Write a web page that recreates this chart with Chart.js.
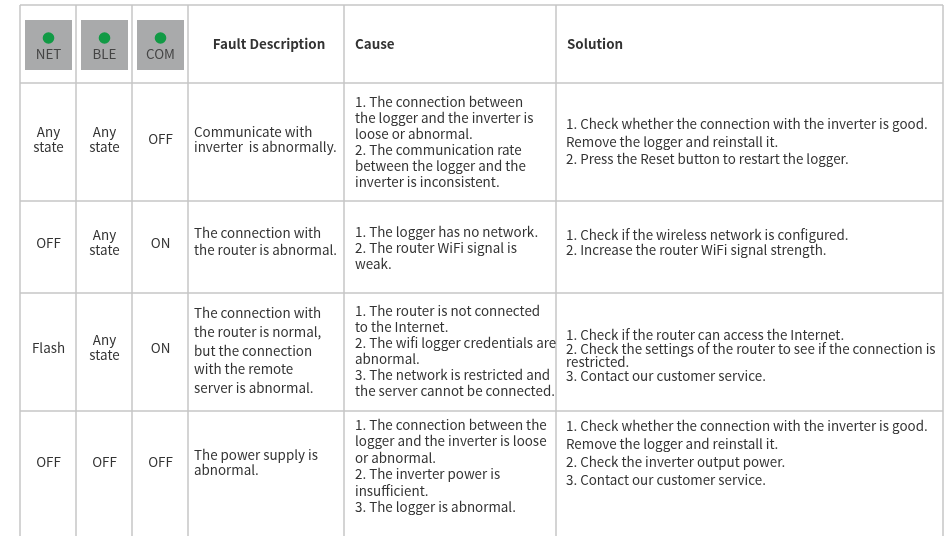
<!DOCTYPE html>
<html>
<head>
<meta charset="utf-8">
<script src="https://cdn.jsdelivr.net/npm/chart.js@4.4.1/dist/chart.umd.min.js"></script>
<style>
  html, body { margin: 0; padding: 0; background: #fff; }
  #wrap { width: 951px; height: 536px; }
</style>
</head>
<body>
<div id="wrap"><canvas id="Chart"></canvas></div>
<script>
/* table content */
const ledNames = ['NET', 'BLE', 'COM'];
const headers = ['Fault Description', 'Cause', 'Solution'];

const netState = [['Any', 'state'], ['OFF'], ['Flash'], ['OFF']];
const bleState = [['Any', 'state'], ['Any', 'state'], ['Any', 'state'], ['OFF']];
const comState = [['OFF'], ['ON'], ['ON'], ['OFF']];

const faults = [
    ['Communicate with', 'inverter  is abnormally.'],
    ['The connection with', 'the router is abnormal.'],
    ['The connection with', 'the router is normal,', 'but the connection', 'with the remote', 'server is abnormal.'],
    ['The power supply is', 'abnormal.']
];

const causes = [
    ['1. The connection between', 'the logger and the inverter is', 'loose or abnormal.', '2. The communication rate', 'between the logger and the', 'inverter is inconsistent.'],
    ['1. The logger has no network.', '2. The router WiFi signal is', 'weak.'],
    ['1. The router is not connected', 'to the Internet.', '2. The wifi logger credentials are', 'abnormal.', '3. The network is restricted and', 'the server cannot be connected.'],
    ['1. The connection between the', 'logger and the inverter is loose', 'or abnormal.', '2. The inverter power is', 'insufficient.', '3. The logger is abnormal.']
];

const solutions = [
    ['1. Check whether the connection with the inverter is good.', 'Remove the logger and reinstall it.', '2. Press the Reset button to restart the logger.'],
    ['1. Check if the wireless network is configured.', '2. Increase the router WiFi signal strength.'],
    ['1. Check if the router can access the Internet.', '2. Check the settings of the router to see if the connection is', 'restricted.', '3. Contact our customer service.'],
    ['1. Check whether the connection with the inverter is good.', 'Remove the logger and reinstall it.', '2. Check the inverter output power.', '3. Contact our customer service.']
];

/* table geometry (in scale units) */
const colEdges = [20, 76, 132, 188, 344, 556, 943];
const rowEdges = [5, 83, 201, 293, 411, 536];

const FONT = '"Noto Sans CJK SC", "Noto Sans", sans-serif';
const TEXT = '#333333';
const LINE = '#c6c6c6';

// cell text placement tweaks per body row (null = top aligned)
const layoutCfg = {
    stateShift: [-3, -4.5, -4.5, 51],
    faultShift: [-3, -5.5, -1.5, 51],
    causeShift: [-0.5, 0.5, -1.5, null],
    solShift:   [-0.5, -5, 3.5, null],
    faultLH:    [15, 17, 18.7, 15],
    causeLH:    [16, 16, 16, 16.4],
    solLH:      [17.5, 15, 13.7, 18]
};

// one line dataset per border line
function borderSets() {
    let sets = [];
    const bottom = rowEdges[rowEdges.length - 1];
    for (let i = 0; i < rowEdges.length - 1; i++) {
        sets.push({ type: 'line', data: [{x: colEdges[0], y: rowEdges[i]}, {x: colEdges[colEdges.length - 1], y: rowEdges[i]}] });
    }
    colEdges.forEach(function (c) {
        sets.push({ type: 'line', data: [{x: c, y: rowEdges[0]}, {x: c, y: bottom}] });
    });
    return sets.map(function (s) {
        return Object.assign(s, { borderColor: LINE, borderWidth: 1.5, pointRadius: 0, fill: false, tension: 0 });
    });
}

const ledDots = ledNames.map(function (n, i) {
    return { x: (colEdges[i] + colEdges[i + 1]) / 2 + 0.5, y: rowEdges[0] + 33 };
});

function drawLines(ctx, arr, x, yc, lh) {
    const y0 = yc - (arr.length - 1) * lh / 2;
    arr.forEach(function (t, i) { ctx.fillText(t, x, y0 + i * lh); });
}

const tablePlugin = {
    id: 'tablePlugin',
    beforeDatasetsDraw(chart) {
        const ctx = chart.ctx, xs = chart.scales.x, ys = chart.scales.y;
        ctx.save();
        ctx.fillStyle = '#a9aaab';
        ledNames.forEach(function (n, i) {
            const x0 = xs.getPixelForValue(colEdges[i] + 5);
            const x1 = xs.getPixelForValue(colEdges[i + 1] - 4);
            const y0 = ys.getPixelForValue(rowEdges[0] + 15);
            const y1 = ys.getPixelForValue(rowEdges[1] - 13);
            ctx.fillRect(x0, y0, x1 - x0, y1 - y0);
        });
        ctx.restore();
    },
    afterDatasetsDraw(chart) {
        const ctx = chart.ctx, xs = chart.scales.x, ys = chart.scales.y;
        const px = function (v) { return xs.getPixelForValue(v); };
        const py = function (v) { return ys.getPixelForValue(v); };
        const L = layoutCfg;
        ctx.save();
        ctx.textBaseline = 'middle';

        // header
        ctx.font = '13.4px ' + FONT;
        ctx.fillStyle = '#444';
        ctx.textAlign = 'center';
        ledNames.forEach(function (n, i) {
            ctx.fillText(n, px((colEdges[i] + colEdges[i + 1]) / 2 + 0.5), py(rowEdges[0] + 49));
        });
        ctx.fillStyle = TEXT;
        ctx.font = 'bold 13.4px ' + FONT;
        const hy = py((rowEdges[0] + rowEdges[1]) / 2);
        ctx.fillText(headers[0], px((colEdges[3] + colEdges[4]) / 2 + 3), hy);
        ctx.textAlign = 'left';
        ctx.fillText(headers[1], px(colEdges[4] + 11), hy);
        ctx.fillText(headers[2], px(colEdges[5] + 11), hy);

        // body rows
        ctx.font = '13.4px ' + FONT;
        const states = [netState, bleState, comState];
        for (let r = 0; r < faults.length; r++) {
            const top = rowEdges[r + 1];
            const last = r === faults.length - 1;
            const mid = last ? top : (top + rowEdges[r + 2]) / 2;

            ctx.textAlign = 'center';
            states.forEach(function (s, i) {
                drawLines(ctx, s[r], px((colEdges[i] + colEdges[i + 1]) / 2 + 0.5), py(mid + L.stateShift[r]), 15);
            });

            ctx.textAlign = 'left';
            drawLines(ctx, faults[r], px(colEdges[3] + 6), py(mid + L.faultShift[r]), L.faultLH[r]);
            if (L.causeShift[r] === null) {
                causes[r].forEach(function (t, i) { ctx.fillText(t, px(colEdges[4] + 11), py(top + 14 + i * L.causeLH[r])); });
                solutions[r].forEach(function (t, i) { ctx.fillText(t, px(colEdges[5] + 10), py(top + 15 + i * L.solLH[r])); });
            } else {
                drawLines(ctx, causes[r], px(colEdges[4] + 11), py(mid + L.causeShift[r]), L.causeLH[r]);
                drawLines(ctx, solutions[r], px(colEdges[5] + 10), py(mid + L.solShift[r]), L.solLH[r]);
            }
        }
        ctx.restore();
    }
};

function plotTable() {
    const ctx = document.getElementById('Chart').getContext('2d');
    let datasets = borderSets();
    datasets.push({
        type: 'scatter',
        data: ledDots,
        backgroundColor: '#119a45',
        borderColor: '#119a45',
        borderWidth: 0,
        pointRadius: 5.8,
        pointHoverRadius: 5.8
    });
    return new Chart(ctx, {
        type: 'scatter',
        data: { datasets: datasets },
        options: {
            responsive: true,
            maintainAspectRatio: false,
            animation: false,
            events: [],
            layout: { padding: 0, autoPadding: false },
            scales: {
                x: { type: 'linear', min: 0, max: 951, display: false },
                y: { type: 'linear', min: 0, max: 536, reverse: true, display: false }
            },
            plugins: {
                legend: { display: false },
                tooltip: { enabled: false }
            }
        },
        plugins: [tablePlugin]
    });
}

const myChart = plotTable();
</script>
</body>
</html>
